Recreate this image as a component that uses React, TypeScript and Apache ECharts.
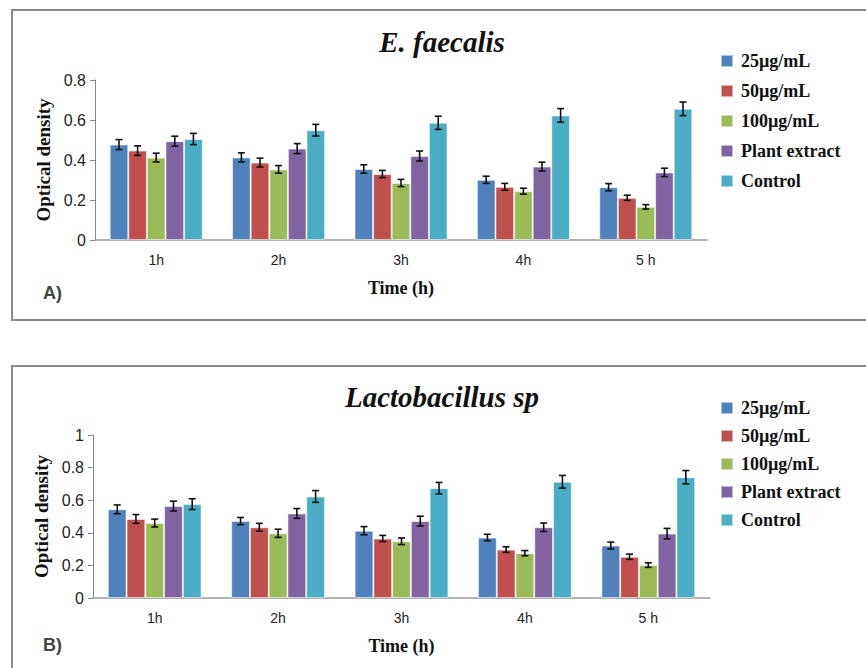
import React, { useEffect, useRef } from "react";
import * as echarts from "echarts";

const categories = ["1h", "2h", "3h", "4h", "5 h"];
const seriesNames = ["25µg/mL", "50µg/mL", "100µg/mL", "Plant extract", "Control"];
const colors = ["#4F81BD", "#C0504D", "#9BBB59", "#8064A2", "#4BACC6"];

// Panel A: E. faecalis
const a25 = [0.477, 0.413, 0.355, 0.301, 0.264];
const a50 = [0.447, 0.387, 0.33, 0.266, 0.211];
const a100 = [0.412, 0.353, 0.285, 0.244, 0.166];
const aPlant = [0.494, 0.457, 0.42, 0.367, 0.338];
const aCtrl = [0.505, 0.549, 0.586, 0.623, 0.656];
const aErr25 = [0.025, 0.023, 0.021, 0.018, 0.018];
const aErr50 = [0.024, 0.022, 0.018, 0.017, 0.013];
const aErr100 = [0.022, 0.019, 0.018, 0.015, 0.011];
const aErrPlant = [0.025, 0.025, 0.025, 0.022, 0.021];
const aErrCtrl = [0.028, 0.029, 0.033, 0.034, 0.034];

// Panel B: Lactobacillus sp
const b25 = [0.544, 0.472, 0.413, 0.371, 0.322];
const b50 = [0.485, 0.434, 0.365, 0.297, 0.253];
const b100 = [0.46, 0.397, 0.348, 0.275, 0.202];
const bPlant = [0.564, 0.519, 0.472, 0.434, 0.395];
const bCtrl = [0.576, 0.623, 0.674, 0.713, 0.741];
const bErr25 = [0.027, 0.022, 0.025, 0.02, 0.021];
const bErr50 = [0.027, 0.024, 0.019, 0.017, 0.016];
const bErr100 = [0.024, 0.025, 0.02, 0.016, 0.014];
const bErrPlant = [0.03, 0.03, 0.03, 0.026, 0.032];
const bErrCtrl = [0.033, 0.036, 0.035, 0.039, 0.041];

const aTicksMax = 0.8;
const bTicksMax = 1;

const GAP = 0.24;

export default function App() {
  const ref = useRef<HTMLDivElement>(null);
  useEffect(() => {
    if (!ref.current) return;
    const chart = echarts.init(ref.current, undefined, { renderer: "svg" });
    const aVals = [a25, a50, a100, aPlant, aCtrl];
    const aErrs = [aErr25, aErr50, aErr100, aErrPlant, aErrCtrl];
    const bVals = [b25, b50, b100, bPlant, bCtrl];
    const bErrs = [bErr25, bErr50, bErr100, bErrPlant, bErrCtrl];

    const serif = "'Liberation Serif', 'Times New Roman', serif";
    const sans = "'Liberation Sans', Arial, sans-serif";

    const series: any[] = [];
    const addPanel = (vals: number[][], errs: number[][], idx: number) => {
      vals.forEach((v, i) => {
        series.push({
          type: "bar",
          name: seriesNames[i],
          xAxisIndex: idx,
          yAxisIndex: idx,
          data: v,
          barGap: "0%",
          barCategoryGap: GAP * 100 + "%",
          itemStyle: {
            color: colors[i],
            borderColor: "rgba(255,255,255,0.55)",
            borderWidth: 1,
          },
        });
      });
      vals.forEach((v, i) => {
        series.push({
          type: "custom",
          name: "err" + idx + "_" + i,
          xAxisIndex: idx,
          yAxisIndex: idx,
          z: 5,
          encode: { x: 0, y: 1 },
          data: v.map((val, k) => [k, val, errs[i][k]]),
          renderItem: (params: any, api: any) => {
            const x = api.value(0);
            const val = api.value(1);
            const e = api.value(2);
            const top = api.coord([x, val + e]);
            const bot = api.coord([x, val - e]);
            const band = api.size([1, 0])[0];
            const bw = (band * (1 - GAP)) / 5;
            const cx = top[0] + (i - 2) * bw;
            const cap = 3.5;
            const style = { stroke: "#111", lineWidth: 1.6 };
            return {
              type: "group",
              children: [
                { type: "line", shape: { x1: cx, y1: top[1], x2: cx, y2: bot[1] }, style },
                { type: "line", shape: { x1: cx - cap, y1: top[1], x2: cx + cap, y2: top[1] }, style },
                { type: "line", shape: { x1: cx - cap, y1: bot[1], x2: cx + cap, y2: bot[1] }, style },
              ],
            };
          },
        });
      });
    };
    addPanel(aVals, aErrs, 0);
    addPanel(bVals, bErrs, 1);

    const xAxisBase = (gridIndex: number) => ({
      type: "category",
      gridIndex,
      data: categories,
      name: "Time (h)",
      nameLocation: "middle",
      nameGap: 39,
      nameTextStyle: { fontFamily: serif, fontWeight: "bold", fontSize: 18, color: "#111" },
      axisLine: { show: true, lineStyle: { color: "#999", width: 1.5 } },
      axisTick: { show: false },
      axisLabel: { fontFamily: sans, fontSize: 14, color: "#222", margin: 13 },
      splitLine: { show: false },
    });
    const yAxisBase = (gridIndex: number, max: number) => ({
      type: "value",
      gridIndex,
      min: 0,
      max,
      interval: 0.2,
      name: "Optical density",
      nameLocation: "middle",
      nameGap: 37,
      nameTextStyle: { fontFamily: serif, fontWeight: "bold", fontSize: 19, color: "#111" },
      axisLine: { show: true, lineStyle: { color: "#888", width: 1 } },
      axisTick: { show: true, length: 5, lineStyle: { color: "#888" } },
      axisLabel: { fontFamily: sans, fontSize: 16, color: "#222", margin: 9 },
      splitLine: { show: false },
    });

    const legendBase = (top: number, gap: number) => ({
      orient: "vertical",
      left: 715,
      top,
      itemWidth: 12,
      itemHeight: 12,
      itemGap: gap,
      icon: "rect",
      selectedMode: false,
      data: seriesNames,
      textStyle: {
        fontFamily: serif,
        fontWeight: "bold",
        fontSize: 18,
        lineHeight: 18,
        color: "#111",
        padding: [0, 0, 0, 3],
      },
    });

    chart.setOption({
      animation: false,
      backgroundColor: "#fff",
      grid: [
        { left: 95, top: 80, width: 612, height: 160 },
        { left: 93, top: 435, width: 617, height: 163 },
      ],
      xAxis: [xAxisBase(0), xAxisBase(1)],
      yAxis: [yAxisBase(0, aTicksMax), yAxisBase(1, bTicksMax)],
      legend: [legendBase(47, 12), legendBase(394, 10)],
      series,
      graphic: [
        {
          type: "rect",
          shape: { x: 12, y: 10, width: 900, height: 310 },
          style: { fill: "none", stroke: "#8a8a8a", lineWidth: 2 },
          silent: true,
        },
        {
          type: "rect",
          shape: { x: 12, y: 366, width: 900, height: 400 },
          style: { fill: "none", stroke: "#8a8a8a", lineWidth: 2 },
          silent: true,
        },
        {
          type: "text",
          x: 442,
          y: 42,
          style: {
            text: "E. faecalis",
            fontFamily: serif,
            fontStyle: "italic",
            fontWeight: "bold",
            fontSize: 29,
            fill: "#111",
            textAlign: "center",
            textVerticalAlign: "middle",
          },
        },
        {
          type: "text",
          x: 442,
          y: 397,
          style: {
            text: "Lactobacillus sp",
            fontFamily: serif,
            fontStyle: "italic",
            fontWeight: "bold",
            fontSize: 29,
            fill: "#111",
            textAlign: "center",
            textVerticalAlign: "middle",
          },
        },
        {
          type: "text",
          x: 43,
          y: 293,
          style: {
            text: "A)",
            fontFamily: sans,
            fontWeight: "bold",
            fontSize: 18,
            fill: "#444",
            textAlign: "left",
            textVerticalAlign: "middle",
          },
        },
        {
          type: "text",
          x: 43,
          y: 645,
          style: {
            text: "B)",
            fontFamily: sans,
            fontWeight: "bold",
            fontSize: 18,
            fill: "#444",
            textAlign: "left",
            textVerticalAlign: "middle",
          },
        },
      ],
    });
    return () => chart.dispose();
  }, []);
  return (
    <div
      ref={ref}
      style={{ position: "absolute", left: 0, top: 0, width: 866, height: 668 }}
    />
  );
}
